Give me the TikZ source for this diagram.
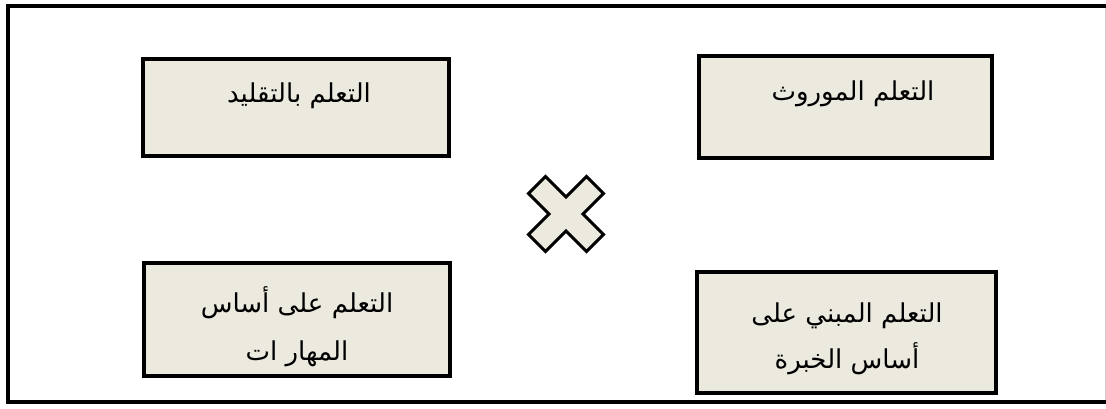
\documentclass[tikz,border=0pt]{standalone}
\usepackage{fontspec}
\newfontfamily\arabicfont[Script=Arabic]{DejaVu Sans}
\TeXXeTstate=1
\definecolor{boxfill}{RGB}{236,234,223}
\begin{document}
\begin{tikzpicture}[x=1pt,y=-1pt,
  box/.style={draw=black, line width=4pt, fill=boxfill},
  lbl/.style={font=\arabicfont\fontsize{26}{30}\selectfont, anchor=base, inner sep=0pt},
  frame/.style={draw=black, line width=4pt}]
\useasboundingbox (0,0) rectangle (1106,408);
\fill[white] (0,0) rectangle (1106,408);
\draw[frame] (1106,6) -- (8,6) -- (8,402) -- (1106,402);
\draw[draw=black!20, line width=1pt] (1105,8) -- (1105,400);
% boxes
\path[box] (143,59) rectangle (449,156);
\path[box] (699,56) rectangle (992,158);
\path[box] (144,263) rectangle (450,376);
\path[box] (697,272) rectangle (996,393);
% labels
\node[lbl] (tl) at (299,102) {\beginR التعلم بالتقليد\endR};
\node[lbl] (tr) at (853,100) {\beginR التعلم الموروث\endR};
\node[lbl] (bl1) at (297,312) {\beginR التعلم على أساس\endR};
\node[lbl] (bl2) at (297,360) {\beginR المهار ات\endR};
\node[lbl] (br1) at (847,322) {\beginR التعلم المبني على\endR};
\node[lbl] (br2) at (847,368) {\beginR أساس الخبرة\endR};
% cross
\coordinate (xc) at (566,214);
\draw[line width=3pt, fill=boxfill, line join=miter, shift={(xc)}, rotate=45]
  (12,12) -- (12,41) -- (-12,41) -- (-12,12) -- (-41,12) -- (-41,-12)
  -- (-12,-12) -- (-12,-41) -- (12,-41) -- (12,-12) -- (41,-12) -- (41,12) -- cycle;
\end{tikzpicture}
\end{document}
